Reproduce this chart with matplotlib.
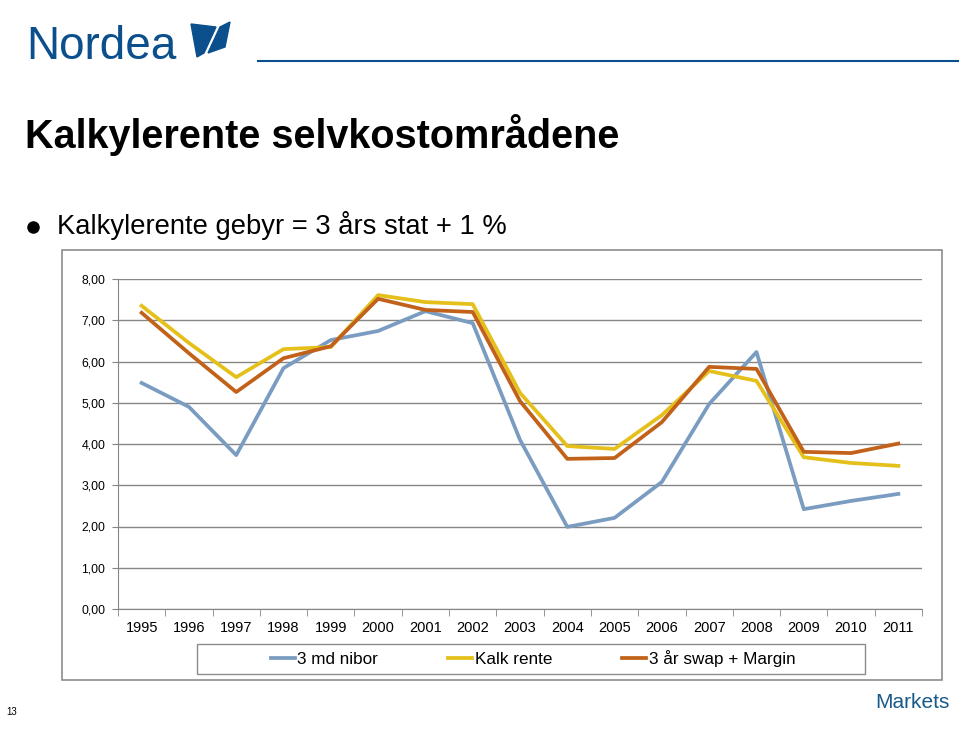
import matplotlib.pyplot as plt
from matplotlib.patches import Rectangle, Polygon
from matplotlib.lines import Line2D

plt.rcParams['font.family'] = ['Liberation Sans', 'DejaVu Sans']

years = [str(y) for y in range(1995, 2012)]
nibor = [5.48, 4.90, 3.73, 5.84, 6.52, 6.74, 7.22, 6.93, 4.10, 1.99, 2.21, 3.08, 4.97, 6.23, 2.42, 2.62, 2.79]
kalk = [7.35, 6.45, 5.62, 6.30, 6.35, 7.61, 7.44, 7.39, 5.24, 3.95, 3.88, 4.70, 5.77, 5.53, 3.68, 3.54, 3.47]
swap = [7.18, 6.20, 5.26, 6.08, 6.37, 7.52, 7.25, 7.20, 5.04, 3.64, 3.66, 4.53, 5.87, 5.82, 3.81, 3.78, 4.01]
yticks = [0, 1, 2, 3, 4, 5, 6, 7, 8]

W, H = 960, 740
fig = plt.figure(figsize=(9.6, 7.4), dpi=100)

def fx(px):
    return px / W

def fy(py):
    return 1 - py / H

blue_logo = '#0b4f8c'

# header
fig.text(fx(26), fy(47), 'Nordea', fontsize=33, color=blue_logo, va='center', ha='left',
         fontweight='medium')
sail1 = Polygon([(fx(191), fy(24)), (fx(216), fy(27)), (fx(204), fy(53)), (fx(197), fy(57))],
                closed=True, color=blue_logo, transform=fig.transFigure)
sail2 = Polygon([(fx(220), fy(27)), (fx(230), fy(22)), (fx(225), fy(47)), (fx(208), fy(53))],
                closed=True, color=blue_logo, transform=fig.transFigure)
fig.patches.extend([sail1, sail2])
fig.add_artist(Line2D([fx(258), fx(958)], [fy(61), fy(61)], color=blue_logo, lw=1.5))

fig.text(fx(25), fy(135), 'Kalkylerente selvkostområdene', fontsize=28.5, fontweight='bold', va='center', ha='left')
fig.add_artist(Line2D([fx(33)], [fy(227)], marker='o', markersize=8, color='black', lw=0))
fig.text(fx(57), fy(226), 'Kalkylerente gebyr = 3 års stat + 1 %', fontsize=19.7, va='center', ha='left')

fig.text(fx(6), fy(712), '13', fontsize=7, va='center', ha='left')
fig.text(fx(950), fy(702), 'Markets', fontsize=15, color='#1a5a8a', va='center', ha='right')

# chart frame
fig.patches.append(Rectangle((fx(62), fy(680)), fx(880), (680 - 250) / H, fill=False,
                             edgecolor='#8c8c8c', lw=1.2, transform=fig.transFigure))

ax = fig.add_axes([fx(118), fy(609), fx(922 - 118), (609 - 279) / H])
x = list(range(len(years)))
ax.plot(x, nibor, color='#7b9cc1', lw=2.7, label='3 md nibor')
ax.plot(x, kalk, color='#e5c01a', lw=2.7, label='Kalk rente')
ax.plot(x, swap, color='#c2621a', lw=2.7, label='3 år swap + Margin')

ax.set_xlim(-0.5, len(years) - 0.5)
ax.set_ylim(0, 8)
ax.set_yticks(yticks)
ax.set_yticklabels([f'{v:.2f}'.replace('.', ',') for v in yticks], fontsize=8.8)
ax.yaxis.grid(True, color='#868686', lw=1)
ax.set_axisbelow(True)
ax.set_xticks(x)
ax.set_xticklabels(years, fontsize=10.5)
ax.set_xticks([i - 0.5 for i in range(len(years) + 1)], minor=True)
ax.tick_params(axis='x', which='major', length=0, pad=9)
ax.tick_params(axis='x', which='minor', length=5, color='#868686', direction='out')
ax.tick_params(axis='y', length=4, color='#868686', direction='out', pad=5)
for s in ['top', 'right']:
    ax.spines[s].set_visible(False)
ax.spines['left'].set_color('#868686')
ax.spines['bottom'].set_color('#868686')

# legend box drawn separately, entries laid out without frame
fig.patches.append(Rectangle((fx(197), fy(674)), fx(668), 30 / H, fill=False,
                             edgecolor='#8c8c8c', lw=1, transform=fig.transFigure))
fig.legend(loc='center', bbox_to_anchor=(fx(533), fy(659)), ncol=3, frameon=False, fontsize=12.3,
           handlelength=1.4, handletextpad=0.15, columnspacing=4.1)

fig.savefig('out.png', dpi=100)
